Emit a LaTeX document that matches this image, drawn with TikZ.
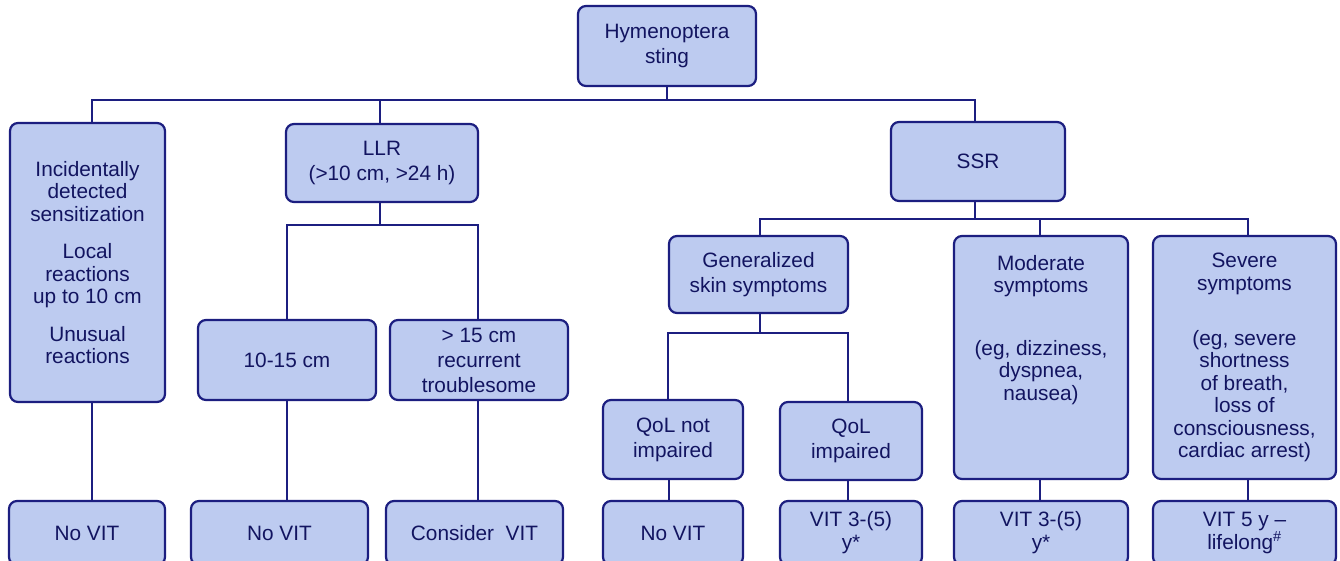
\documentclass[tikz,border=0pt]{standalone}
\usepackage{fontspec}
\setmainfont{Liberation Sans}
\definecolor{boxfill}{RGB}{189,203,240}
\definecolor{boxline}{RGB}{28,30,128}
\definecolor{txt}{RGB}{18,20,96}
\tikzset{
  bx/.style={draw=boxline, fill=boxfill, line width=2.2pt, rounded corners=8pt,
    align=center, text=txt, inner sep=0pt, font=\fontsize{20.8}{22.5}\selectfont},
  two/.style={font=\fontsize{20.8}{25}\selectfont},
  tw3/.style={font=\fontsize{20.8}{23}\selectfont},
  conn/.style={draw=boxline, line width=2pt},
}
\begin{document}
\begin{tikzpicture}[x=1pt,y=-1pt]
\clip (0,0) rectangle (1340,561);
\fill[white] (0,0) rectangle (1340,561);
% top
\node[bx,two,minimum width=178,minimum height=80] (hym) at (667,46) {Hymenoptera\\sting};
% level 1
\node[bx,minimum width=155,minimum height=279] (inc) at (87.5,262.5)
  {Incidentally\\detected\\sensitization\\[15pt]Local\\reactions\\up to 10 cm\\[15pt]Unusual\\reactions};
\node[bx,two,minimum width=192,minimum height=78] (llr) at (382,163) {LLR\\(>10 cm, >24 h)};
\node[bx,minimum width=174,minimum height=79] (ssr) at (978,161.5) {SSR};
% level 2 (LLR)
\node[bx,minimum width=178,minimum height=80] (a1015) at (287,360) {10-15 cm};
\node[bx,two,minimum width=178,minimum height=80] (a15) at (479,360) {> 15 cm\\recurrent\\troublesome};
% level 2 (SSR)
\node[bx,two,minimum width=179,minimum height=77] (gen) at (758.5,274.5) {Generalized\\skin symptoms};
\node[bx,minimum width=174,minimum height=243] (mod) at (1041,357.5)
  {Moderate\\symptoms\\[40pt](eg, dizziness,\\dyspnea,\\nausea)\\[37.5pt]\mbox{}};
\node[bx,minimum width=183,minimum height=243] (sev) at (1244.5,357.5)
  {Severe\\symptoms\\[32.5pt](eg, severe\\shortness\\of breath,\\loss of\\consciousness,\\cardiac arrest)};
% level 3
\node[bx,two,minimum width=140,minimum height=79] (qn) at (673,439.5) {QoL not\\impaired};
\node[bx,two,minimum width=142,minimum height=78] (qi) at (851,441) {QoL\\impaired};
% bottom row
\node[bx,minimum width=156,minimum height=64] (b1) at (87,533) {No VIT};
\node[bx,minimum width=177,minimum height=64] (b2) at (279.5,533) {No VIT};
\node[bx,minimum width=177,minimum height=64] (b3) at (474.5,533) {Consider\ \ VIT};
\node[bx,minimum width=140,minimum height=64] (b4) at (673,533) {No VIT};
\node[bx,tw3,minimum width=142,minimum height=64] (b5) at (851,533) {VIT 3-(5)\\y*};
\node[bx,tw3,minimum width=174,minimum height=64] (b6) at (1041,533) {VIT 3-(5)\\y*};
\node[bx,tw3,minimum width=183,minimum height=64] (b7) at (1244.5,533) {VIT 5 y –\\lifelong\textsuperscript{\#}};
% connectors
\coordinate (j0) at (667,100);
\draw[conn] (hym.south) -- (j0);
\draw[conn] ([xshift=4.5pt]inc.north) |- (j0) -| ([xshift=-3pt]ssr.north);
\draw[conn] ([xshift=-2.5pt]llr.north) -- ([xshift=-2.5pt]llr.north |- j0);
\coordinate (j1) at (379.5,225);
\draw[conn] ([xshift=-2.5pt]llr.south) -- (j1);
\draw[conn] (a1015.north) |- (j1) -| ([xshift=-1pt]a15.north);
\coordinate (j2) at (975,219);
\draw[conn] ([xshift=-3pt]ssr.south) -- (j2);
\draw[conn] ([xshift=1.5pt]gen.north) |- (j2) -| ([xshift=3.5pt]sev.north);
\draw[conn] ([xshift=-1pt]mod.north) -- ([xshift=-1pt]mod.north |- j2);
\coordinate (j3) at (760,333);
\draw[conn] ([xshift=1.5pt]gen.south) -- (j3);
\draw[conn] ([xshift=-5pt]qn.north) |- (j3) -| ([xshift=-3pt]qi.north);
\draw[conn] ([xshift=4.5pt]inc.south) -- ([xshift=4.5pt]inc.south |- b1.north);
\draw[conn] (a1015.south) -- (a1015.south |- b2.north);
\draw[conn] ([xshift=-1pt]a15.south) -- ([xshift=-1pt]a15.south |- b3.north);
\draw[conn] ([xshift=-4pt]qn.south) -- ([xshift=-4pt]qn.south |- b4.north);
\draw[conn] ([xshift=-3pt]qi.south) -- ([xshift=-3pt]qi.south |- b5.north);
\draw[conn] ([xshift=-1pt]mod.south) -- ([xshift=-1pt]mod.south |- b6.north);
\draw[conn] ([xshift=3.5pt]sev.south) -- ([xshift=3.5pt]sev.south |- b7.north);
\end{tikzpicture}
\end{document}
